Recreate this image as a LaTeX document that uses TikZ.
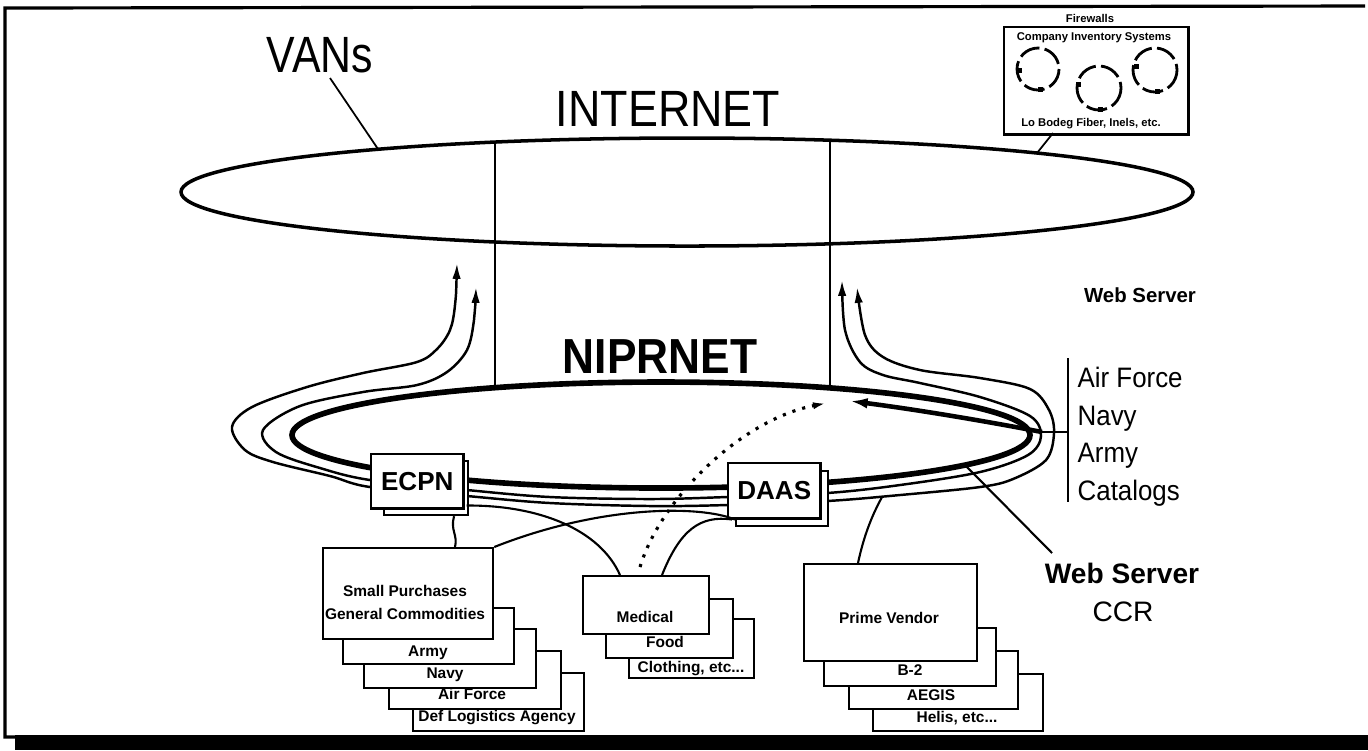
\documentclass[tikz,border=0pt]{standalone}
\usepackage{fontspec}
\setmainfont{Liberation Sans}
\usetikzlibrary{arrows.meta,calc}
\begin{document}
\begin{tikzpicture}[x=0.01cm,y=-0.01cm,
  box/.style={draw,line width=0.6pt,fill=white,inner sep=0pt,anchor=north west},
  blab/.style={font=\fontsize{4.4}{5}\selectfont\bfseries,anchor=base,inner sep=0pt},
  hub/.style={draw,line width=0.7pt,fill=white,inner sep=0pt,anchor=north west,
     minimum width=0.92cm,minimum height=0.54cm,font=\fontsize{7.4}{8}\selectfont\bfseries},
  loopline/.style={line width=0.7pt},
  fwring/.style={line width=0.8pt,dash pattern=on 6pt off 1.5pt},
  fwmark/.style={fill,inner sep=0pt,minimum size=0.05cm},
  fwtext/.style={font=\fontsize{3.2}{4}\selectfont\bfseries,inner sep=0pt},
  big/.style={inner sep=0pt,anchor=base}]
\useasboundingbox (0,0) rectangle (1368,750);
% frame
\draw[line width=0.9pt] (1365,6) -- (5,8) -- (5,737) -- (1368,737);
\fill (15,735) rectangle (1368,750);

% INTERNET ring
\draw[line width=1pt] (687,192) ellipse [x radius=506, y radius=54];
\node[big,font=\fontsize{14.5}{16}\selectfont,xscale=0.84] (vans) at (320,72) {VANs};
\draw[line width=0.5pt] (330,78) -- (378,149);
\node[big,font=\fontsize{14.5}{16}\selectfont,xscale=0.88] (internet) at (668,126) {INTERNET};

% connections between rings
\coordinate (i1) at (495,142);
\coordinate (n1) at (495,386);
\coordinate (i2) at (830,140);
\coordinate (n2) at (830,386);
\draw[line width=0.5pt] (i1) -- (n1);
\draw[line width=0.5pt] (i2) -- (n2);

% firewall box
\node[draw,line width=0.7pt,anchor=north west,minimum width=1.84cm,minimum height=1.07cm,inner sep=0pt] (fw) at (1003,26) {};
\node[fwtext] (fwt) at (1090,18) {Firewalls};
\node[fwtext] (fwa) at (1094,38) {Company Inventory Systems};
\node[fwtext] (fwb) at (1091,124) {Lo Bodeg Fiber, Inels, etc.};
\draw[fwring] (1038,69) circle [radius=21];
\draw[fwring] (1099,88) circle [radius=22];
\draw[fwring] (1155,70) circle [radius=22];
\node[fwmark] (m1) at (1040,89) {};
\node[fwmark] (m2) at (1100,109) {};
\node[fwmark] (m3) at (1157,91) {};
\node[fwmark] (m4) at (1019,70) {};
\node[fwmark] (m5) at (1136,66) {};
\node[fwmark] (m6) at (1078,84) {};
\draw[line width=0.5pt] (1053,133) -- (1037,153);

% NIPRNET
\node[big,font=\fontsize{14}{16}\selectfont\bfseries,xscale=0.9] (nipr) at (660,373) {NIPRNET};
\draw[line width=1.6pt] (661,435) ellipse [x radius=369, y radius=53];

% loops
\draw[loopline,{Latex[length=4.5pt,width=2.4pt]}-{Latex[length=4.5pt,width=2.4pt]}]
  plot[smooth,tension=0.55] coordinates {(457,263) (455,305) (450,330) (437,349) (417,362) (363,373)
   (307,387) (252,407) (232,427) (245,450) (273,462) (330,476) (370,487) (467,496) (550,503)
   (650,506) (727,505) (827,501) (900,495) (980,487) (1013,479) (1046,460) (1054,433) (1049,410)
   (1030,389) (980,378) (920,370) (883,357) (865,335) (857,287)};
\draw[loopline,{Latex[length=4.5pt,width=2.4pt]}-{Latex[length=4.5pt,width=2.4pt]}]
  plot[smooth,tension=0.55] coordinates {(476,287) (474,320) (467,350) (447,372) (417,385) (363,392)
   (300,406) (263,430) (276,452) (320,468) (370,480) (467,490) (550,497) (650,499) (727,497)
   (827,493) (900,485) (980,472) (1028,455) (1041,436) (1030,416) (980,397) (920,383) (883,375)
   (860,362) (845,330) (842,280)};
% web server tick
\draw[line width=0.8pt] (1068,358) -- (1068,502);
\coordinate (tick) at (1042,432);
\draw[line width=0.8pt] (tick) -- (1068,432);
\draw[line width=1.3pt,-{Latex[length=5pt,width=3pt]}] (tick) .. controls (990,422) and (920,410) .. (850,401);
\node[big,font=\fontsize{5.8}{7}\selectfont\bfseries] (ws1) at (1140,302) {Web Server};
\node[font=\fontsize{8}{9}\selectfont,anchor=base west,inner sep=0pt,xscale=0.92] (af) at (1077,387) {Air Force};
\node[font=\fontsize{8}{9}\selectfont,anchor=base west,inner sep=0pt,xscale=0.92] (nv) at (1077,425) {Navy};
\node[font=\fontsize{8}{9}\selectfont,anchor=base west,inner sep=0pt,xscale=0.92] (ar) at (1077,462) {Army};
\node[font=\fontsize{8}{9}\selectfont,anchor=base west,inner sep=0pt,xscale=0.92] (ct) at (1077,500) {Catalogs};
\node[big,font=\fontsize{8}{9}\selectfont\bfseries] (ws2) at (1122,583) {Web Server};
\node[big,font=\fontsize{8}{9}\selectfont] (ccr) at (1123,621) {CCR};
\coordinate (wsl) at (965,465);
\draw[line width=0.6pt] (1052,553) -- (wsl);

% hubs
\node[box,minimum width=0.84cm,minimum height=0.54cm] (ecpns) at (383,460) {};
\node[hub] (ecpn) at (370,453) {ECPN};
\node[box,minimum width=0.92cm,minimum height=0.55cm] (daass) at (735,470) {};
\node[hub,minimum height=0.55cm] (daas) at (727,462) {DAAS};

% small purchases stack
\node[box,minimum width=1.71cm,minimum height=0.58cm] (dla) at (412,672) {};
\node[blab] at (497,721) {Def Logistics Agency};
\node[box,minimum width=1.72cm,minimum height=0.58cm] (af2) at (388,650) {};
\node[blab] at (472,699) {Air Force};
\node[box,minimum width=1.72cm,minimum height=0.59cm] (navy) at (363,628) {};
\node[blab] at (445,678) {Navy};
\node[box,minimum width=1.71cm,minimum height=0.56cm] (army) at (342,607) {};
\node[blab] at (428,656) {Army};
\node[box,minimum width=1.70cm,minimum height=0.91cm] (sp) at (322,547) {};
\node[blab] at (405,596) {Small Purchases};
\node[blab] at (405,619) {General Commodities};

% medical stack
\node[box,minimum width=1.25cm,minimum height=0.59cm] (cl) at (628,618) {};
\node[blab] at (691,672) {Clothing, etc...};
\node[box,minimum width=1.27cm,minimum height=0.59cm] (food) at (605,598) {};
\node[blab] at (665,647) {Food};
\node[box,minimum width=1.26cm,minimum height=0.58cm] (med) at (582,575) {};
\node[blab] at (645,622) {Medical};

% prime vendor stack
\node[box,minimum width=1.70cm,minimum height=0.57cm] (hel) at (872,673) {};
\node[blab] at (957,722) {Helis, etc...};
\node[box,minimum width=1.69cm,minimum height=0.58cm] (aeg) at (848,650) {};
\node[blab] at (931,700) {AEGIS};
\node[box,minimum width=1.72cm,minimum height=0.58cm] (b2) at (823,627) {};
\node[blab] at (910,675) {B-2};
\node[box,minimum width=1.73cm,minimum height=0.97cm] (pv) at (803,563) {};
\node[blab] at (889,623) {Prime Vendor};

% connectors
\draw[line width=0.6pt] ($(ecpns.south)+(28,0)$) .. controls (450,530) and (458,535) .. ($(sp.north west)+(133,0)$);
\draw[line width=0.6pt] (sp.north east) .. controls (600,505) and (700,505) .. ($(daas.south west)+(8,0)$);
\draw[line width=0.6pt] ($(med.north west)+(38,0)$) .. controls (600,530) and (540,505) .. ($(ecpn.south east)+(2,-4)$);
\draw[line width=0.6pt] ($(med.north west)+(80,0)$) .. controls (680,530) and (700,515) .. ($(daas.south west)+(5,0)$);
\draw[line width=0.9pt,dotted,-{Latex[length=4pt,width=2pt]}] ($(med.north west)+(58,-8)$) .. controls (660,500) and (740,420) .. (827,403);
\draw[line width=0.6pt] ($(pv.north west)+(55,0)$) .. controls (865,530) and (875,510) .. (882,497);
\end{tikzpicture}
\end{document}
